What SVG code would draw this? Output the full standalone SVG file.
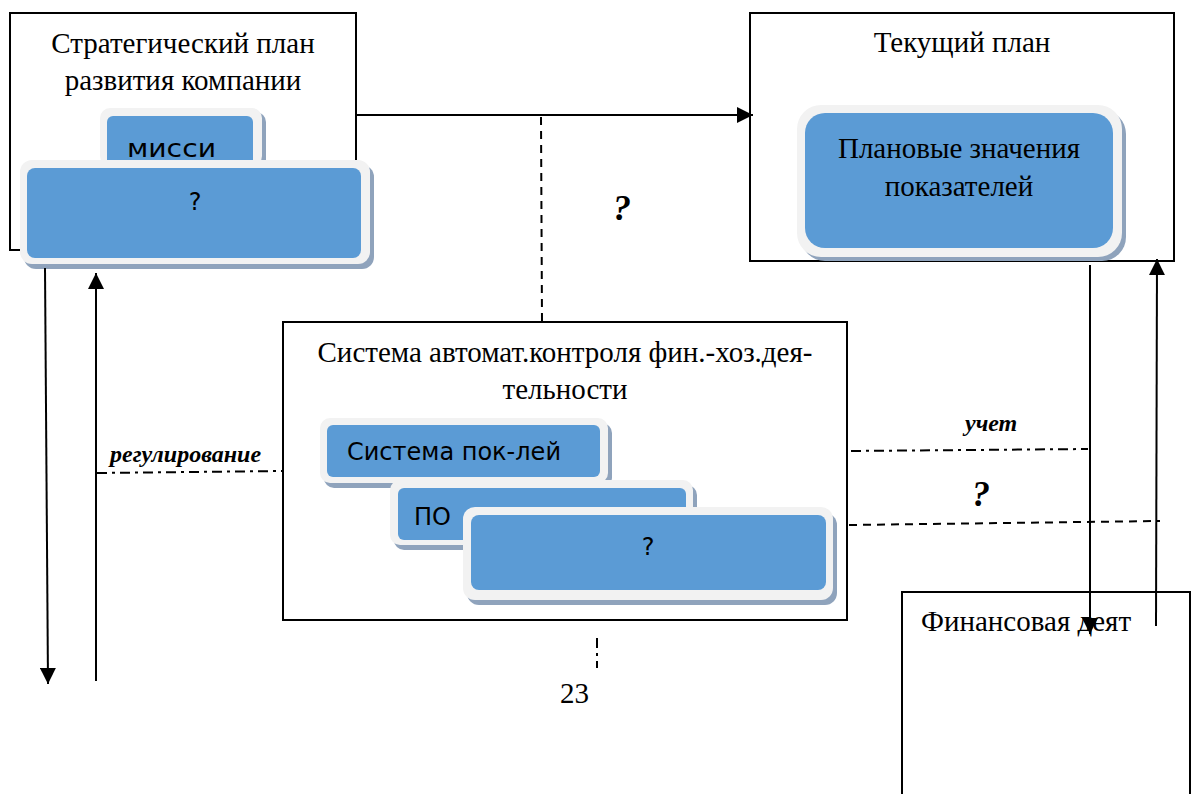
<svg xmlns="http://www.w3.org/2000/svg" width="1197" height="794" viewBox="0 0 1197 794">
<defs>
<style>
.frame{fill:#fff;stroke:#000;stroke-width:2}
.sh{fill:#8fa3bc}
.out{fill:#f2f2f2}
.in{fill:#5b9bd5}
.serif{font-family:"Liberation Serif",serif;font-size:29px;fill:#000}
.sans{font-family:"DejaVu Sans","Noto Sans",sans-serif;font-size:24px;fill:#000}
.bi{font-family:"Liberation Serif",serif;font-weight:bold;font-style:italic;fill:#000}
.ln{stroke:#000;stroke-width:2;fill:none}
.dash{stroke:#000;stroke-width:2;fill:none;stroke-dasharray:8 6}
.dd{stroke:#000;stroke-width:2;fill:none;stroke-dasharray:10 5 3 5}
</style>
<marker id="ah2" viewBox="0 0 10 10" refX="10" refY="5" markerWidth="16" markerHeight="16" markerUnits="userSpaceOnUse" orient="auto">
<path d="M0,0 L10,5 L0,10 z" fill="#000"/>
</marker>
</defs>

<g id="strategic">
<rect class="frame" x="10" y="13" width="346" height="237"/>
<text class="serif" text-anchor="middle" x="183" y="53">Стратегический план</text>
<text class="serif" text-anchor="middle" x="183" y="90">развития компании</text>
</g>
<g id="mission">
<rect class="sh" x="104" y="112" width="162" height="58" rx="10"/>
<rect class="out" x="100" y="108" width="162" height="58" rx="10"/>
<rect class="in" x="107" y="116" width="146" height="50" rx="6"/>
<text class="sans" x="127" y="157" font-size="30" textLength="89" lengthAdjust="spacingAndGlyphs">мисси</text>
</g>
<g id="q-goal">
<rect class="sh" x="24" y="165" width="350" height="104" rx="12"/>
<rect class="out" x="20" y="160" width="350" height="104" rx="12"/>
<rect class="in" x="27" y="168" width="334" height="90" rx="8"/>
<text class="sans" x="195" y="210" font-size="27" text-anchor="middle">?</text>
</g>

<g id="current">
<rect class="frame" x="750" y="13" width="424" height="248"/>
<text class="serif" text-anchor="middle" x="962" y="52">Текущий план</text>
</g>
<g id="plan-values">
<rect class="sh" x="801" y="110" width="325" height="151" rx="24"/>
<rect class="out" x="797" y="105" width="325" height="152" rx="24"/>
<rect class="in" x="805" y="113" width="308" height="135" rx="20"/>
<text class="serif" text-anchor="middle" x="959" y="158">Плановые значения</text>
<text class="serif" text-anchor="middle" x="959" y="196">показателей</text>
</g>

<g id="control">
<rect class="frame" x="283" y="322" width="564" height="298"/>
<text class="serif" text-anchor="middle" x="565" y="362">Система автомат.контроля фин.-хоз.дея-</text>
<text class="serif" text-anchor="middle" x="565" y="399">тельности</text>
</g>
<g id="indicators">
<rect class="sh" x="324" y="423" width="288" height="65" rx="10"/>
<rect class="out" x="320" y="418" width="288" height="65" rx="10"/>
<rect class="in" x="327" y="425" width="273" height="52" rx="6"/>
<text class="sans" x="347" y="460">Система пок-лей</text>
</g>
<g id="software">
<rect class="sh" x="394" y="485" width="303" height="65" rx="10"/>
<rect class="out" x="390" y="480" width="303" height="65" rx="10"/>
<rect class="in" x="398" y="488" width="288" height="52" rx="6"/>
<text class="sans" x="414" y="525">ПО</text>
</g>
<g id="q-third">
<rect class="sh" x="467" y="513" width="370" height="92" rx="12"/>
<rect class="out" x="463" y="507" width="370" height="93" rx="12"/>
<rect class="in" x="471" y="515" width="355" height="75" rx="8"/>
<text class="sans" x="648" y="555" font-size="27" text-anchor="middle">?</text>
</g>

<g id="financial">
<path class="ln" d="M902,794 V592 H1190 V794"/>
<text class="serif" x="921" y="631">Финансовая деят</text>
</g>

<g id="connectors">
<line class="ln" x1="356" y1="115" x2="753" y2="115" marker-end="url(#ah2)"/>
<line class="dash" x1="541" y1="117" x2="542" y2="322"/>
<text class="bi" x="622" y="220" font-size="36" text-anchor="middle">?</text>
<line class="ln" x1="45" y1="268" x2="48" y2="684" marker-end="url(#ah2)"/>
<line class="ln" x1="96" y1="681" x2="96" y2="273" marker-end="url(#ah2)"/>
<text class="bi" x="110" y="462" font-size="24">регулирование</text>
<line class="dd" x1="97" y1="473" x2="283" y2="471"/>
<line class="ln" x1="1090" y1="265" x2="1090" y2="634" marker-end="url(#ah2)"/>
<line class="ln" x1="1156" y1="626" x2="1157" y2="259" marker-end="url(#ah2)"/>
<text class="bi" x="965" y="431" font-size="24">учет</text>
<line class="dd" x1="851" y1="451" x2="1088" y2="449"/>
<text class="bi" x="981" y="506" font-size="36" text-anchor="middle">?</text>
<line class="dash" x1="849" y1="525" x2="1160" y2="521"/>
<line class="dd" x1="597" y1="638" x2="597" y2="668"/>
<text class="serif" x="560" y="703">23</text>
</g>
</svg>
